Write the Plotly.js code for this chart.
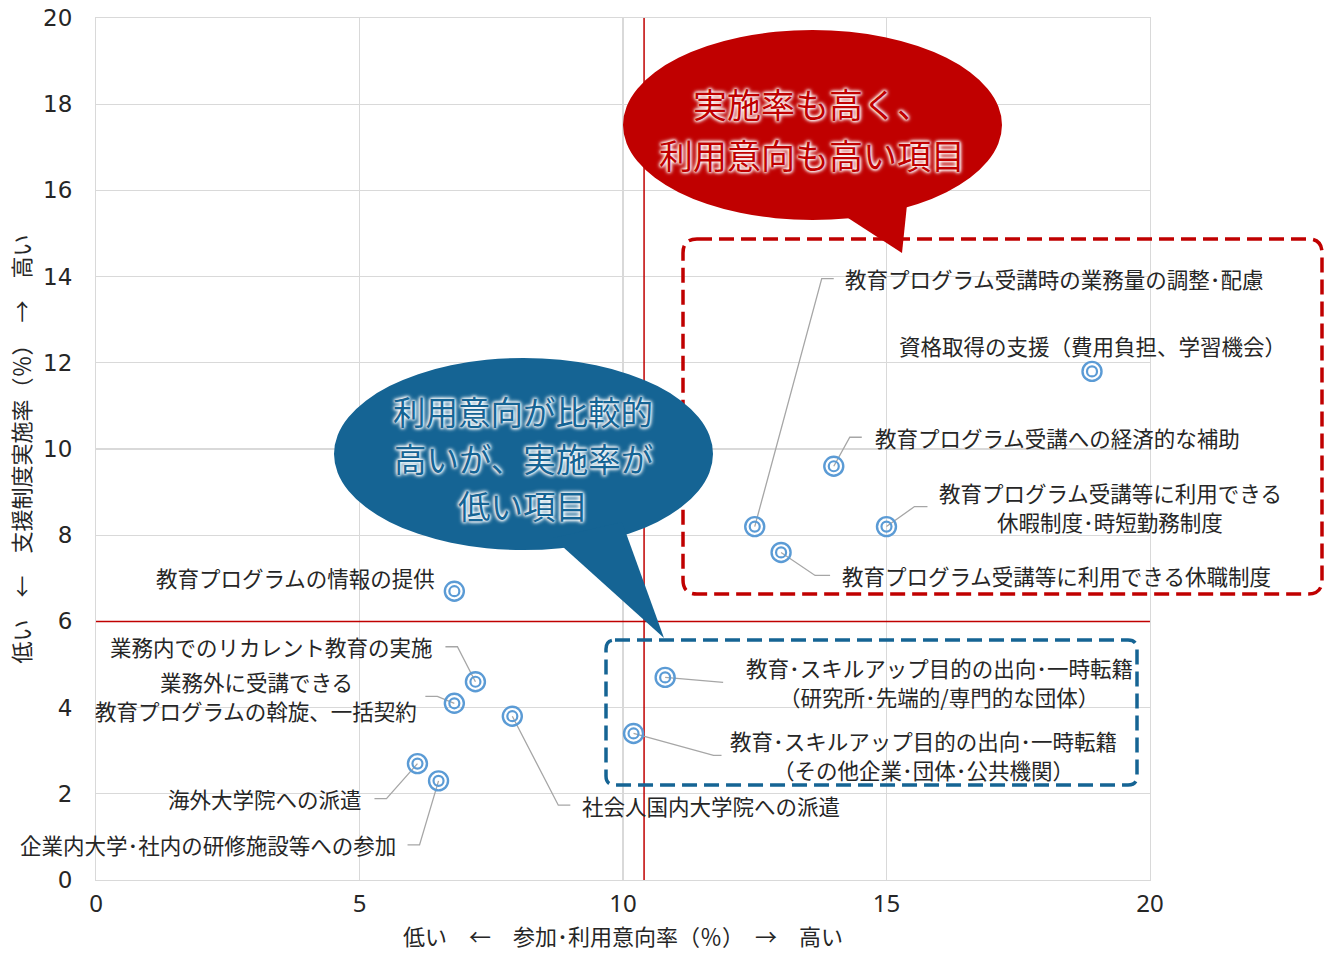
<!DOCTYPE html>
<html>
<head>
<meta charset="utf-8">
<script src="https://cdn.plot.ly/plotly-3.0.1.min.js"></script>
<style>html,body{margin:0;padding:0;background:#fff;}#chart{width:1326px;height:954px;}</style>
</head>
<body>
<div id="chart"></div>
<script>
// ---- data ----
const itemNames = [
  "教育プログラム受講時の業務量の調整･配慮",
  "資格取得の支援（費用負担、学習機会）",
  "教育プログラム受講への経済的な補助",
  "教育プログラム受講等に利用できる<br>休暇制度･時短勤務制度",
  "教育プログラム受講等に利用できる休職制度",
  "教育プログラムの情報の提供",
  "業務内でのリカレント教育の実施",
  "業務外に受講できる<br>教育プログラムの斡旋、一括契約",
  "社会人国内大学院への派遣",
  "教育･スキルアップ目的の出向･一時転籍<br>（研究所･先端的/専門的な団体）",
  "教育･スキルアップ目的の出向･一時転籍<br>（その他企業･団体･公共機関）",
  "海外大学院への派遣",
  "企業内大学･社内の研修施設等への参加"
];
const intentRate  = [12.5, 18.9, 14.0, 15.0, 13.0, 6.8, 7.2, 6.8, 7.9, 10.8, 10.2, 6.1, 6.5];
const supportRate = [8.2, 11.8, 9.6, 8.2, 7.6, 6.7, 4.6, 4.1, 3.8, 4.7, 3.4, 2.7, 2.3];
const avgIntent = 10.4;
const avgSupport = 6.0;
const xTicks = [0, 5, 10, 15, 20];
const yTicks = [0, 2, 4, 6, 8, 10, 12, 14, 16, 18, 20];
const xTitle = "低い　←　参加･利用意向率（％）　→　高い";
const yTitle = "低い　←　支援制度実施率（％）　→　高い";
const bubbleRedText = ["実施率も高く、", "利用意向も高い項目"];
const bubbleBlueText = ["利用意向が比較的", "高いが、実施率が", "低い項目"];

// ---- label layout (pixel offsets from each point; screen coords, +y down) ----
const labelLayout = [
  {dx: 88,  dy: -248, anchor: 'left',   leader: [[67,-248],[79,-248]]},
  {dx: 0,   dy: -26,  anchor: 'center', leader: null},
  {dx: 39,  dy: -29,  anchor: 'left',   leader: [[16,-29],[28,-29]]},
  {dx: 224, dy: -20,  anchor: 'center', leader: [[28,-20],[41,-20]]},
  {dx: 59,  dy: 23,   anchor: 'left',   leader: [[34,23],[49,23]]},
  {dx: -17, dy: -14,  anchor: 'right',  leader: null},
  {dx: -40, dy: -35,  anchor: 'right',  leader: [[-18,-35],[-30,-35]]},
  {dx: -198,dy: -7,   anchor: 'center', leader: [[-17,-7],[-29,-7]]},
  {dx: 68,  dy: 89,   anchor: 'left',   leader: [[46,89],[58,89]]},
  {dx: 274, dy: 5,    anchor: 'center', leader: [[58,5]]},
  {dx: 290, dy: 22,   anchor: 'center', leader: [[80,22],[88,22]]},
  {dx: -53, dy: 35,   anchor: 'right',  leader: [[-31,35],[-43,35]]},
  {dx: -41, dy: 64,   anchor: 'right',  leader: [[-19,64],[-31,64]]}
];
const LINE_GAP = 29;

const FONT = "'Noto Sans CJK JP', 'Noto Sans', sans-serif";
const RED = '#C00000';
const BLUE = '#156494';
const PT = '#5B9BD5';

const traces = [
  {type: 'scatter', mode: 'markers', x: intentRate, y: supportRate, hoverinfo: 'skip',
   marker: {symbol: 'circle-open', size: 19, color: PT, line: {width: 2.4, color: PT}}},
  {type: 'scatter', mode: 'markers', x: intentRate, y: supportRate, hoverinfo: 'skip',
   marker: {symbol: 'circle-open', size: 10, color: PT, line: {width: 2.2, color: PT}}}
];

// plot area in pixels
const W = 1326, H = 954;
const M = {l: 96, r: 176, t: 18, b: 74};
const PW = W - M.l - M.r, PH = H - M.t - M.b;
const px = v => (v - M.l) / PW;      // screen x -> paper
const py = v => (H - M.b - v) / PH;  // screen y -> paper

function roundRect(x0, y0, x1, y1, r) {
  const X0 = px(x0), X1 = px(x1), Y0 = py(y1), Y1 = py(y0);
  const rx = r / PW, ry = r / PH;
  return `M ${X0+rx},${Y1} L ${X1-rx},${Y1} Q ${X1},${Y1} ${X1},${Y1-ry} L ${X1},${Y0+ry} Q ${X1},${Y0} ${X1-rx},${Y0} L ${X0+rx},${Y0} Q ${X0},${Y0} ${X0},${Y0+ry} L ${X0},${Y1-ry} Q ${X0},${Y1} ${X0+rx},${Y1} Z`;
}
function tri(a, b, c) {
  return `M ${px(a[0])},${py(a[1])} L ${px(b[0])},${py(b[1])} L ${px(c[0])},${py(c[1])} Z`;
}

const shapes = [
  {type: 'line', xref: 'x', yref: 'y', x0: avgIntent, x1: avgIntent, y0: yTicks[0], y1: yTicks[yTicks.length-1],
   line: {color: RED, width: 1.5}, layer: 'between'},
  {type: 'line', xref: 'x', yref: 'y', x0: xTicks[0], x1: xTicks[xTicks.length-1], y0: avgSupport, y1: avgSupport,
   line: {color: RED, width: 1.5}, layer: 'between'},
  {type: 'path', xref: 'paper', yref: 'paper', path: roundRect(683, 239, 1322, 594, 14),
   line: {color: RED, width: 3.5, dash: '15px,7px'}, layer: 'above'},
  {type: 'path', xref: 'paper', yref: 'paper', path: roundRect(606, 640, 1137, 785, 9),
   line: {color: BLUE, width: 3.5, dash: '15px,7px'}, layer: 'above'},
  {type: 'circle', xref: 'paper', yref: 'paper', x0: px(623), x1: px(1002), y0: py(220), y1: py(30),
   fillcolor: RED, line: {width: 0}, layer: 'above'},
  {type: 'path', xref: 'paper', yref: 'paper', path: tri([828, 205], [908, 195], [902, 253]),
   fillcolor: RED, line: {width: 0}, layer: 'above'},
  {type: 'circle', xref: 'paper', yref: 'paper', x0: px(334), x1: px(713), y0: py(550), y1: py(358),
   fillcolor: BLUE, line: {width: 0}, layer: 'above'},
  {type: 'path', xref: 'paper', yref: 'paper', path: tri([553, 538], [622, 522], [664, 638]),
   fillcolor: BLUE, line: {width: 0}, layer: 'above'}
];

const annotations = [];
intentRate.forEach((xv, i) => {
  const L = labelLayout[i];
  const lines = itemNames[i].split('<br>');
  const n = lines.length;
  lines.forEach((t, k) => {
    const off = (k - (n - 1) / 2) * LINE_GAP;
    annotations.push({
      x: xv, y: supportRate[i], xref: 'x', yref: 'y', text: t, showarrow: false,
      xanchor: L.anchor, yanchor: 'middle', xshift: L.dx, yshift: -(L.dy + off),
      font: {family: FONT, size: 21.5, color: '#262626'}
    });
  });
  if (L.leader) {
    let p = 'M 0,0';
    L.leader.forEach(q => { p += ` L ${q[0]},${-q[1]}`; });
    shapes.push({type: 'path', xref: 'x', yref: 'y', xsizemode: 'pixel', ysizemode: 'pixel',
      xanchor: xv, yanchor: supportRate[i], path: p,
      line: {color: '#A6A6A6', width: 1.3}, layer: 'between'});
  }
});
const glow = '0 0 3px #fff, 0 0 3px #fff, 0 0 4px #fff, 0 0 5px #fff';
bubbleRedText.forEach((t, k) => {
  annotations.push({
    xref: 'paper', yref: 'paper', x: px(812), y: py(104 + k * 50), text: t, showarrow: false,
    xanchor: 'center', yanchor: 'middle',
    font: {family: FONT, size: 34, color: RED, shadow: glow}
  });
});
bubbleBlueText.forEach((t, k) => {
  annotations.push({
    xref: 'paper', yref: 'paper', x: px(523), y: py(410 + k * 47), text: t, showarrow: false,
    xanchor: 'center', yanchor: 'middle',
    font: {family: FONT, size: 32.5, color: BLUE, shadow: glow}
  });
});

const layout = {
  width: W, height: H, margin: M, showlegend: false,
  paper_bgcolor: '#fff', plot_bgcolor: '#fff',
  font: {family: FONT, color: '#262626'},
  xaxis: {range: [xTicks[0], xTicks[xTicks.length-1] + 0.0005], tickvals: xTicks, showgrid: true, gridcolor: '#D9D9D9',
    gridwidth: 1.3, zeroline: false, showline: true, linecolor: '#D9D9D9', mirror: true, ticks: '',
    ticklabelstandoff: 2, tickfont: {family: "'Noto Sans', sans-serif", size: 24, color: '#262626'},
    title: {text: xTitle, standoff: 8, font: {family: FONT, size: 22, color: '#262626'}}},
  yaxis: {range: [yTicks[0] - 0.0005, yTicks[yTicks.length-1] + 0.0005], tickvals: yTicks, showgrid: true, gridcolor: '#D9D9D9',
    gridwidth: 1.3, zeroline: false, showline: true, linecolor: '#D9D9D9', mirror: true, ticks: '',
    ticklabelstandoff: 18, tickfont: {family: "'DejaVu Sans', sans-serif", size: 23, color: '#262626'},
    title: {text: yTitle, standoff: 6, font: {family: FONT, size: 22, color: '#262626'}}},
  shapes: shapes, annotations: annotations
};

Plotly.newPlot('chart', traces, layout, {displayModeBar: false, staticPlot: true});
</script>
</body>
</html>
